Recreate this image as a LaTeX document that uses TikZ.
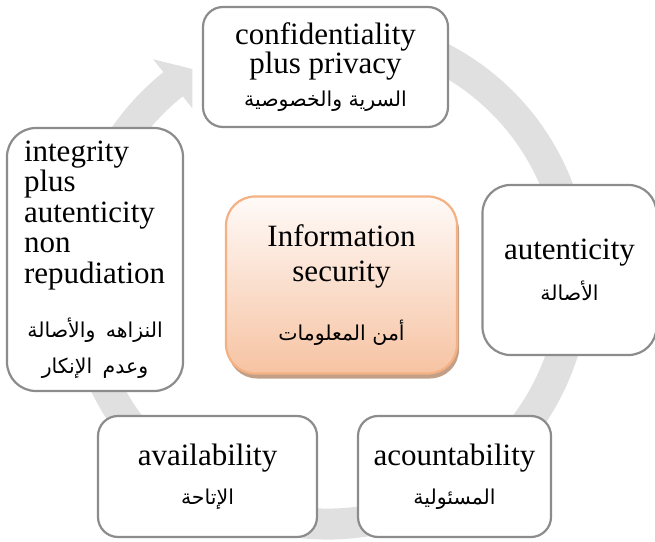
\documentclass[tikz,border=0pt]{standalone}
\usepackage{fontspec}
\setmainfont{Liberation Serif}
\newfontfamily\arabicfont[Script=Arabic]{DejaVu Sans}
\TeXXeTstate=1
\usetikzlibrary{calc,shadows}
\newcommand{\artxt}[1]{{\arabicfont\fontsize{20.5}{24}\selectfont\beginR #1\endR}}
\definecolor{boxgray}{HTML}{8C8C8C}
\definecolor{ringgray}{HTML}{E0E0E0}
\definecolor{peachline}{HTML}{F4B183}
\definecolor{peachtop}{HTML}{FFFAF8}
\definecolor{peachbot}{HTML}{F6C3A2}
\definecolor{shadowbrown}{HTML}{B88E72}
\begin{document}
\begin{tikzpicture}[x=1pt,y=1pt,
  box/.style={draw=boxgray, line width=2.2pt, fill=white, rounded corners=#1,
    inner sep=0pt, align=center, font=\fontsize{31}{29.5}\selectfont},
  centerbox/.style={draw=peachline, line width=2.2pt, rounded corners=29pt,
    top color=peachtop, bottom color=peachbot, inner sep=0pt, align=center,
    font=\fontsize{31}{35}\selectfont,
    drop shadow={shadow xshift=2pt, shadow yshift=-5pt, fill=shadowbrown, opacity=0.85}},
  ring/.style={draw=ringgray, line width=31pt}]
\useasboundingbox (0,0) rectangle (655,541);
% cycle ring with arrow head
\coordinate (ringc) at (327.5,264);
\draw[ring] (ringc) ++(110:247) arc[start angle=110, end angle=-231.5, radius=247];
\fill[ringgray] ($(ringc)+(128.7:279)$) -- ($(ringc)+(123:248)$) -- ($(ringc)+(128.7:216)$) -- cycle;
% boxes
\node[box=20pt, minimum width=245pt, minimum height=120pt] (conf) at (325.5,474)
  {confidentiality\\plus privacy\\[3pt]\artxt{السرية والخصوصية}};
\node[box=29pt, minimum width=176pt, minimum height=263pt, text width=142pt, align=left,
  font=\fontsize{31}{30.5}\selectfont] (integ) at (95,281.5)
  {integrity\\plus\\autenticity\\non\\repudiation\\[24pt]%
   \makebox[\linewidth]{\artxt{النزاهه والأصالة}}\\[5pt]%
   \makebox[\linewidth]{\artxt{وعدم الإنكار}}};
\node[box=28pt, minimum width=174pt, minimum height=170pt] (auth) at (569.5,271)
  {autenticity\\[12pt]\artxt{الأصالة}};
\node[box=20pt, minimum width=219pt, minimum height=121pt] (avail) at (207.5,64.5)
  {availability\\[10pt]\artxt{الإتاحة}};
\node[box=20pt, minimum width=193pt, minimum height=121pt] (account) at (454.5,64.5)
  {acountability\\[10pt]\artxt{المسئولية}};
\node[centerbox, minimum width=231pt, minimum height=177pt] (info) at (341.5,256)
  {Information\\security\\[24pt]\artxt{أمن المعلومات}};
\end{tikzpicture}
\end{document}
